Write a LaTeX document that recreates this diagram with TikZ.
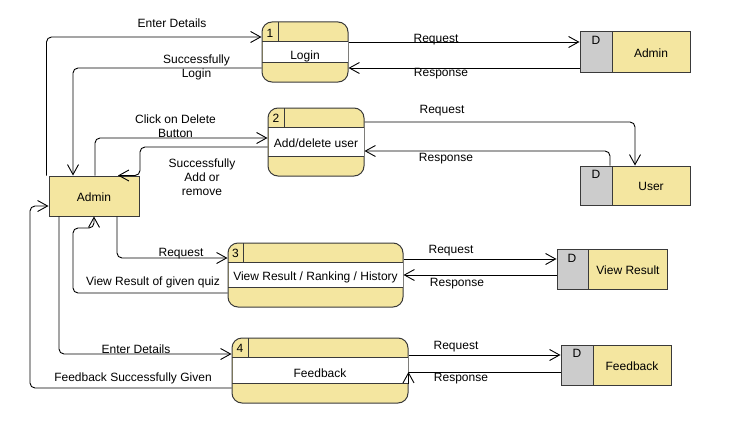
\documentclass[tikz,border=0pt]{standalone}
\usepackage{fontspec}
\setmainfont{Liberation Sans}
\usetikzlibrary{arrows.meta}
\definecolor{yel}{HTML}{F4E6A0}
\definecolor{gry}{HTML}{CCCCCC}
\definecolor{bord}{HTML}{3A3A3A}
\begin{document}
\begin{tikzpicture}[x=1pt,y=-1pt,
  every node/.style={font=\fontsize{12}{14}\selectfont, inner sep=0pt},
  lbl/.style={align=center, yshift=-1.5pt},
  procbox/.style={draw=bord, fill=yel, line width=1pt, rounded corners=10pt},
  storebox/.style={draw=bord, fill=yel, line width=1pt},
  entbox/.style={draw=bord, fill=yel, line width=1pt},
  arr/.style={draw=black, line width=0.9pt, rounded corners=5pt, -{Straight Barb[length=10pt,width=11pt,line width=0.9pt]}},
  ln/.style={draw=black, line width=0.9pt, rounded corners=5pt}]
\useasboundingbox (0,0) rectangle (738,436);

% ---------- processes ----------
% Process 1
\node[procbox, minimum width=86pt, minimum height=60pt] (p1) at (305,52) {};
\fill[white] (262.5,42) rectangle (347.5,62);
\draw[bord, line width=1pt] (262,42) -- (348,42) (262,62) -- (348,62) (278,22) -- (278,42);
\node[lbl] (p1n) at (270,32) {1};
\node[lbl] (p1t) at (305,55) {Login};

% Process 2
\node[procbox, minimum width=96pt, minimum height=68pt] (p2) at (316,142) {};
\fill[white] (268.5,127) rectangle (363.5,156);
\draw[bord, line width=1pt] (268,127) -- (364,127) (268,156) -- (364,156) (284,108) -- (284,127);
\node[lbl] (p2n) at (276,117) {2};
\node[lbl] (p2t) at (316,142) {Add/delete user};

% Process 3
\node[procbox, minimum width=175pt, minimum height=64pt] (p3) at (315.5,275) {};
\fill[white] (228.5,262) rectangle (402.5,287);
\draw[bord, line width=1pt] (228,262) -- (403,262) (228,287) -- (403,287) (243,243) -- (243,262);
\node[lbl] (p3n) at (235.5,252) {3};
\node[lbl] (p3t) at (315.5,276) {View Result / Ranking / History};

% Process 4
\node[procbox, minimum width=176pt, minimum height=65pt] (p4) at (320,370.5) {};
\fill[white] (232.5,357) rectangle (407.5,383);
\draw[bord, line width=1pt] (232,357) -- (408,357) (232,383) -- (408,383) (248,338) -- (248,357);
\node[lbl] (p4n) at (240,347) {4};
\node[lbl] (p4t) at (320,372) {Feedback};

% ---------- entity ----------
\node[entbox, minimum width=90pt, minimum height=40pt] (adm) at (94,196) {};
\node[lbl] (admt) at (94,196) {Admin};

% ---------- data stores ----------
\node[storebox, minimum width=110pt, minimum height=40pt] (s1) at (635,52) {};
\filldraw[fill=gry, draw=bord, line width=1pt] (580,32) rectangle (612,72);
\node[lbl] (s1d) at (596,39) {D};
\node[lbl] (s1t) at (651,52) {Admin};

\node[storebox, minimum width=110pt, minimum height=39pt] (s2) at (635,185.5) {};
\filldraw[fill=gry, draw=bord, line width=1pt] (580,166) rectangle (612,205);
\node[lbl] (s2d) at (596,173) {D};
\node[lbl] (s2t) at (651,185) {User};

\node[storebox, minimum width=110pt, minimum height=40pt] (s3) at (612,269) {};
\filldraw[fill=gry, draw=bord, line width=1pt] (557,249) rectangle (588,289);
\node[lbl] (s3d) at (572,257) {D};
\node[lbl] (s3t) at (628,269) {View Result};

\node[storebox, minimum width=110pt, minimum height=40pt] (s4) at (616,365) {};
\filldraw[fill=gry, draw=bord, line width=1pt] (561,345) rectangle (593,385);
\node[lbl] (s4d) at (577,352) {D};
\node[lbl] (s4t) at (632,365) {Feedback};

% ---------- connectors ----------
% Admin <-> Login
\draw[arr] ([xshift=-2pt]adm.north west) |- (p1.west |- 0,37);
\draw[arr] (p1.west |- 0,68) -| (adm.north -| 73,0);
\node[lbl] (l1) at (172,22) {Enter Details};
\node[lbl] (l2) at (196.5,66) {Successfully\\Login};

% Login <-> Admin store
\draw[arr] (p1.east |- 0,42) -- (s1.west |- 0,42);
\draw[arr] (s1.west |- 0,68) -- (p1.east |- 0,68);
\node[lbl] (l3) at (436,38) {Request};
\node[lbl] (l4) at (441,72) {Response};

% Admin <-> Add/delete
\draw[arr] (adm.north -| 95,0) |- (p2.west |- 0,138);
\draw[arr] (p2.west |- 0,147) -| (adm.north -| 140,0) -- (adm.north -| 118,0);
\node[lbl] (l5) at (175.5,124.5) {Click on Delete\\Button};
\node[lbl] (l6) at (202,175.5) {Successfully\\Add or\\remove};

% Add/delete <-> User store
\draw[arr] (p2.east |- 0,122) -| (s2.north -| 635,0);
\draw[arr] (s2.north -| 610,0) |- (p2.east |- 0,151);
\node[lbl] (l7) at (442,109) {Request};
\node[lbl] (l8) at (446,157) {Response};

% Admin <-> View result
\draw[arr] (adm.south -| 117,0) |- (p3.west |- 0,258);
\draw[arr] (p3.west |- 0,293) -| (73,228) -| (adm.south -| 94,0);
\node[lbl] (l9) at (181,252) {Request};
\node[lbl] (l10) at (153,281) {View Result of given quiz};

% View result <-> store
\draw[arr] (p3.east |- 0,259) -- (s3.west |- 0,259);
\draw[arr] (s3.west |- 0,275) -- (p3.east |- 0,275);
\node[lbl] (l11) at (451,249) {Request};
\node[lbl] (l12) at (457,282) {Response};

% Admin <-> Feedback
\draw[arr] (adm.south -| 59,0) |- (p4.west |- 0,354);
\draw[arr] (p4.west |- 0,388) -| (30,206) -- (adm.west |- 0,206);
\node[lbl] (l13) at (136,348) {Enter Details};
\node[lbl] (l14) at (133,377) {Feedback Successfully Given};

% Feedback <-> store
\draw[arr] (p4.east |- 0,355) -- (s4.west |- 0,355);
\draw[ln] (s4.west |- 0,372) -- (p4.east |- 0,372);
\draw[arr] (p4.east |- 0,384) -- (p4.east |- 0,372);
\node[lbl] (l15) at (456,345) {Request};
\node[lbl] (l16) at (461,377.5) {Response};
\end{tikzpicture}
\end{document}
